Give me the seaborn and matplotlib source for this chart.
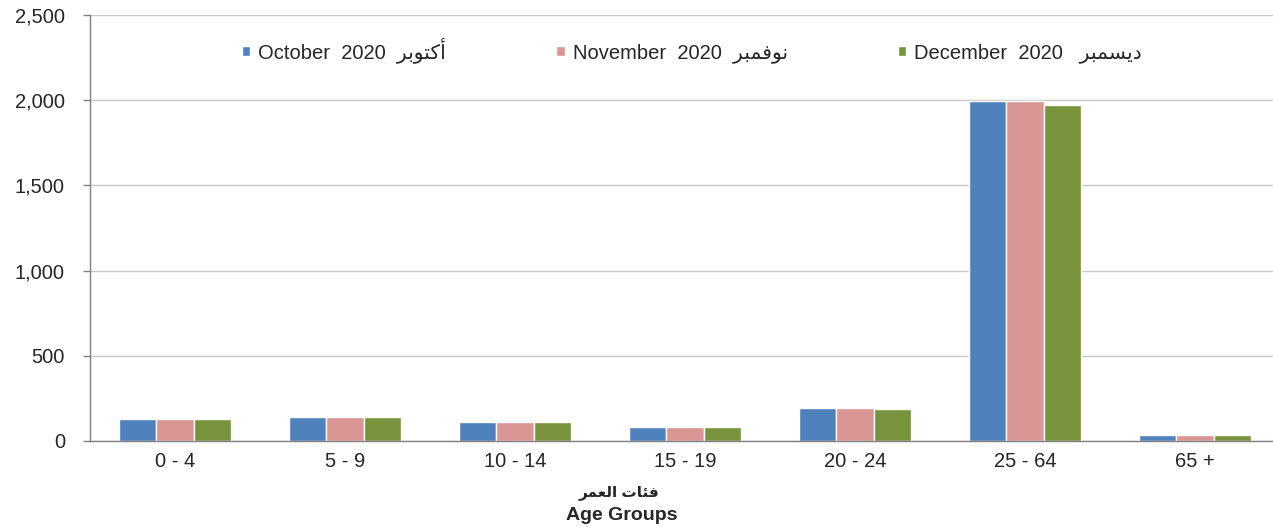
import pandas as pd
import matplotlib
matplotlib.use("Agg")
import matplotlib.pyplot as plt
import seaborn as sns

# Age groups and monthly values
age_groups = ["0 - 4", "5 - 9", "10 - 14", "15 - 19", "20 - 24", "25 - 64", "65 +"]
october = [131, 140, 113, 82, 195, 1995, 33]
november = [131, 140, 113, 80, 192, 1995, 33]
december = [127, 138, 113, 80, 186, 1972, 35]

# Arabic words written in presentation forms, visual order (no shaping engine in matplotlib)
ar_oct = "\uFEAE\uFE91\uFEEE\uFE98\uFEDB\uFE83"
ar_nov = "\uFEAE\uFE92\uFEE4\uFED3\uFEEE\uFEE7"
ar_dec = "\uFEAE\uFE92\uFEE4\uFEB4\uFEF3\uFEA9"
ar_age = "\uFEAE\uFEE4\uFECC\uFEDF\uFE8D \uFE95\uFE8E\uFE8C\uFED3"

series_names = [
    "October  2020  " + ar_oct,
    "November  2020  " + ar_nov,
    "December  2020   " + ar_dec,
]
colors = ["#4F81BD", "#D99694", "#77933C"]


def main():
    sns.set_style("white")
    plt.rcParams["font.family"] = ["Liberation Sans", "DejaVu Sans"]

    rows = []
    for name, vals in zip(series_names, [october, november, december]):
        for g, v in zip(age_groups, vals):
            rows.append({"Age": g, "Month": name, "Value": v})
    df = pd.DataFrame(rows)

    fig = plt.figure(figsize=(12.73, 5.27), dpi=100)
    ax = fig.add_axes([90 / 1273, 1 - 441 / 527, 1190 / 1273, 426 / 527])

    sns.barplot(
        data=df,
        x="Age",
        y="Value",
        hue="Month",
        palette=colors,
        width=0.66,
        edgecolor="white",
        linewidth=1.0,
        saturation=1,
        ax=ax,
    )

    ax.set_ylim(0, 2500)
    ax.set_xlim(-0.5, 6.5)
    ax.set_yticks(range(0, 2501, 500))
    ax.set_yticklabels([f"{v:,}" for v in range(0, 2501, 500)], fontsize=14.5)
    ax.yaxis.grid(True, color="#C8C8C8", linewidth=1.0)
    ax.set_axisbelow(True)

    # category boundary ticks, labels in the middle
    ax.set_xticks([i - 0.5 for i in range(8)])
    ax.set_xticklabels([])
    ax.set_xticks(range(7), minor=True)
    ax.set_xticklabels(age_groups, minor=True, fontsize=14.5)
    ax.tick_params(axis="x", which="major", length=5, color="#808080", width=1, direction="out")
    ax.tick_params(axis="x", which="minor", length=0, pad=8)
    ax.tick_params(axis="y", length=5, color="#808080", width=1, direction="out", left=True, pad=13)

    for side in ["top", "right"]:
        ax.spines[side].set_visible(False)
    for side in ["left", "bottom"]:
        ax.spines[side].set_color("#808080")
        ax.spines[side].set_linewidth(1.0)

    ax.set_xlabel("")
    ax.set_ylabel("")
    fig.text(619 / 1273, 1 - 493 / 527, ar_age, ha="center", va="center",
             fontsize=11, fontweight="bold")
    fig.text(622 / 1273, 1 - 515 / 527, "Age Groups", ha="center", va="center",
             fontsize=14, fontweight="bold")

    ax.legend(
        loc="center",
        bbox_to_anchor=((692 - 90) / 1190, (441 - 50) / 426),
        ncol=3,
        frameon=False,
        fontsize=14.5,
        handlelength=0.4,
        handleheight=0.4,
        handletextpad=0.4,
        columnspacing=5.5,
        title=None,
    )

    fig.savefig("out.png", dpi=100)
    plt.close(fig)


if __name__ == "__main__":
    main()
